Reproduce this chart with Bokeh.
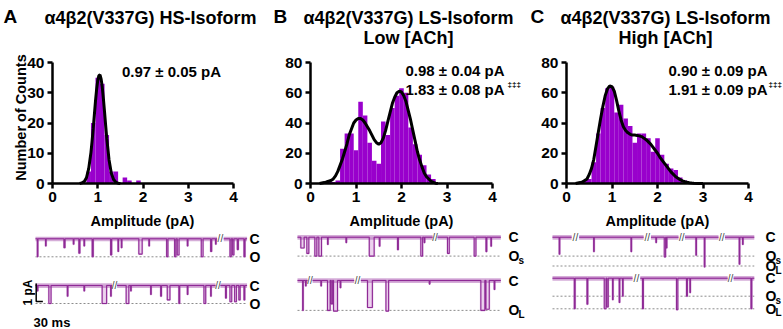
import math
from bokeh.plotting import figure
from bokeh.models import Label, Range1d
from bokeh.layouts import row
from bokeh.embed import file_html
from bokeh.resources import INLINE
from bokeh.core.properties import value

FONT = "Liberation Sans"
PURPLE = "#9900cc"

# ---------------- histogram data (bin centres in pA, counts) ----------------
a_centers = [0.8, 0.9, 1.0, 1.1, 1.2, 1.3, 1.4, 1.6, 1.7, 1.9]
a_counts = [4, 20, 35, 33, 16, 4, 4, 2, 1, 1]

b_centers = [0.4, 0.5, 0.6, 0.7, 0.8, 0.9, 1.0, 1.1, 1.2, 1.3, 1.4, 1.5, 1.6, 1.7,
             1.8, 1.9, 2.0, 2.1, 2.2, 2.3, 2.4, 2.5, 2.6, 2.7]
b_counts = [1.5, 1, 2, 23, 33, 33, 22, 54, 45, 27, 15, 13, 41, 32,
            50, 58, 63, 60, 37, 26, 19, 12, 6, 3]

c_centers = [0.3, 0.4, 0.5, 0.6, 0.7, 0.8, 0.9, 1.0, 1.1, 1.2, 1.3, 1.4, 1.5, 1.6,
             1.7, 1.8, 1.9, 2.0, 2.1, 2.2, 2.3, 2.4, 2.5, 2.6]
c_counts = [1, 2, 3, 14, 33, 50, 63, 64, 47, 52, 43, 38, 27, 33,
            33, 30, 21, 30, 19, 13, 10, 9, 4, 2]

# ---------------- fitted curves ----------------
a_fit_x = [0.60, 0.65, 0.70, 0.75, 0.80, 0.85, 0.875, 0.90, 0.925, 0.95, 0.975, 1.00,
           1.025, 1.05, 1.075, 1.10, 1.125, 1.15, 1.175, 1.20, 1.25, 1.30, 1.35, 1.40,
           1.45, 1.50]
a_fit_y = [0.0, 0.2, 0.6, 1.9, 4.9, 10.3, 14.0, 18.2, 22.7, 27.2, 31.1, 34.1,
           35.7, 35.9, 34.5, 31.8, 28.0, 23.7, 19.1, 14.8, 7.8, 3.4, 1.3, 0.4,
           0.1, 0.0]

b_fit_x = [0.20, 0.25, 0.30, 0.35, 0.40, 0.45, 0.50, 0.55, 0.60, 0.65, 0.70, 0.75,
           0.80, 0.85, 0.90, 0.95, 1.00, 1.05, 1.10, 1.15, 1.20, 1.25, 1.30, 1.35,
           1.40, 1.45, 1.50, 1.55, 1.60, 1.65, 1.70, 1.75, 1.80, 1.85, 1.90, 1.95,
           2.00, 2.05, 2.10, 2.15, 2.20, 2.25, 2.30, 2.35, 2.40, 2.45, 2.50, 2.55,
           2.60, 2.65, 2.70, 2.75, 2.80]
b_fit_y = [0.0, 0.3, 0.6, 1.0, 1.5, 2.0, 3.0, 5.0, 8.0, 12.0, 16.0, 21.0,
           26.0, 32.0, 36.0, 40.0, 42.0, 43.0, 43.0, 42.0, 40.0, 37.5, 35.0, 32.0,
           29.0, 27.0, 26.0, 27.0, 30.0, 35.0, 41.0, 47.0, 53.0, 57.0, 60.0, 61.0,
           60.5, 58.0, 54.0, 48.0, 42.0, 35.0, 28.0, 21.0, 15.5, 11.0, 7.0, 4.5,
           3.0, 1.5, 0.7, 0.2, 0.0]

c_fit_x = [0.20, 0.25, 0.30, 0.35, 0.40, 0.45, 0.50, 0.55, 0.60, 0.65, 0.70, 0.75,
           0.80, 0.85, 0.90, 0.95, 1.00, 1.05, 1.10, 1.15, 1.20, 1.25, 1.30, 1.35,
           1.40, 1.45, 1.50, 1.55, 1.60, 1.65, 1.70, 1.75, 1.80, 1.85, 1.90, 1.95,
           2.00, 2.05, 2.10, 2.15, 2.20, 2.25, 2.30, 2.35, 2.40, 2.45, 2.50, 2.55,
           2.60, 2.65, 2.70, 2.75, 2.80, 2.90, 3.00]
c_fit_y = [0.0, 0.3, 0.6, 1.0, 2.0, 3.0, 6.0, 10.0, 16.0, 25.0, 34.0, 43.0,
           51.0, 58.0, 62.5, 64.5, 64.0, 61.0, 55.0, 48.0, 42.0, 37.5, 35.0, 33.5,
           32.5, 32.0, 32.0, 31.8, 31.5, 31.0, 30.0, 29.0, 27.5, 26.0, 24.0, 22.0,
           20.0, 17.5, 15.5, 13.5, 11.5, 9.5, 7.5, 6.0, 4.5, 3.5, 2.5, 1.8,
           1.2, 0.8, 0.5, 0.3, 0.15, 0.0, 0.0]

x_ticks = [0, 1, 2, 3, 4]
a_y_ticks = [0, 10, 20, 30, 40]
bc_y_ticks = [0, 20, 40, 60, 80]

# ---------------- single-channel traces (ms from trace start; events: start, duration, amplitude pA) ----
A1_len = 952
A1_breaks = [(817, 847)]
A1_levels = [1.0]
A1_events = [(8, 3, 1.0), (45, 3, 0.4), (128, 5, 0.5), (170, 3, 0.3), (195, 5, 0.8), (218, 3, 0.4),
             (255, 5, 1.0), (338, 5, 0.9), (371, 3, 0.7), (386, 3, 0.5), (465, 15, 0.85), (510, 3, 0.4),
             (590, 6, 1.0), (626, 6, 1.0), (638, 8, 0.9), (683, 3, 0.4), (746, 8, 1.0), (788, 5, 0.7),
             (810, 3, 0.3), (875, 6, 1.0), (887, 6, 0.9), (908, 5, 0.6), (938, 5, 1.0)]

A2_len = 952
A2_breaks = [(345, 367), (810, 832)]
A2_levels = [1.0]
A2_events = [(8, 3, 0.3), (60, 10, 1.0), (143, 3, 0.6), (218, 3, 0.3), (300, 20, 1.0), (338, 3, 0.6),
             (408, 12, 1.0), (428, 3, 0.3), (518, 3, 0.5), (563, 4, 0.6), (593, 12, 0.8), (645, 4, 1.0),
             (683, 3, 0.5), (758, 8, 1.0), (788, 3, 0.6), (855, 4, 0.7), (875, 8, 0.9), (896, 8, 0.9),
             (915, 6, 0.8), (938, 4, 0.8)]

B1_len = 915
B1_breaks = [(608, 630)]
B1_levels = [1.05]
B1_events = [(15, 15, 0.6), (42, 9, 0.9), (78, 9, 1.05), (96, 12, 1.05), (135, 3, 0.4), (218, 3, 0.3),
             (323, 22, 1.05), (368, 3, 0.5), (450, 4, 0.7), (555, 8, 1.05), (570, 3, 0.3), (675, 8, 0.9),
             (795, 8, 1.05), (848, 4, 0.8), (870, 3, 0.5)]

B2_len = 915
B2_breaks = [(45, 68), (255, 285)]
B2_levels = [1.66]
B2_events = [(23, 3, 1.66), (36, 3, 0.3), (105, 3, 0.3), (135, 12, 1.66), (152, 6, 1.3), (162, 18, 1.7),
             (192, 3, 0.4), (315, 22, 1.5), (398, 12, 1.7), (593, 3, 0.2), (825, 18, 1.66), (848, 15, 1.6),
             (885, 3, 0.5)]

C1_len = 908
C1_breaks = [(86, 120), (410, 443), (567, 596), (747, 776)]
C1_levels = [1.05, 1.6]
C1_events = [(30, 3, 0.95), (185, 3, 0.8), (353, 3, 0.8), (465, 3, 0.3), (503, 6, 1.1), (512, 3, 0.6),
             (645, 3, 1.0), (683, 3, 1.65), (840, 3, 1.5), (855, 3, 0.4)]

C2_len = 908
C2_breaks = [(360, 395), (788, 815)]
C2_levels = [1.0, 1.7]
C2_events = [(98, 4, 1.7), (155, 4, 1.45), (233, 8, 1.7), (245, 6, 1.6), (270, 3, 1.2), (300, 3, 1.35),
             (315, 3, 1.0), (405, 4, 1.7), (558, 6, 1.75), (603, 4, 1.0), (618, 3, 0.8), (893, 4, 1.7)]

scale_ms = 30
scale_pA = 1

# ---------------- layout constants (pixels) ----------------
FIG_H = 329
FRAME_T = 62          # pixel row of the top tick of the count axis
FRAME_B = 183         # pixel row of count = 0
MS_PER_PX = 4.5
PX_PER_PA = 18.0
DARK = "#8e2a95"
MID = "#a24aa8"
LIGHT = "#dcaee0"


def make_panel(fig_x, fig_w, left, frame_w, ymax, yticks, centers, counts, fx, fy):
    span = FRAME_B - FRAME_T
    xs0 = -left / frame_w * 4.0
    xs1 = (fig_w - left) / frame_w * 4.0
    ys0 = -(FIG_H - FRAME_B) / span * ymax
    ys1 = ymax + FRAME_T / span * ymax
    p = figure(width=fig_w, height=FIG_H, x_range=Range1d(xs0, xs1), y_range=Range1d(ys0, ys1),
               output_backend="svg", toolbar_location=None, min_border=0)
    p.outline_line_color = None
    p.grid.visible = False
    # trace coordinate system (ms, pA)
    p.extra_x_ranges = {"ms": Range1d(0, fig_w * MS_PER_PX)}
    p.extra_y_ranges = {"pA": Range1d(-FIG_H / PX_PER_PA, 0)}

    p.vbar(x=centers, width=0.1, top=counts, fill_color=PURPLE, line_color=None)
    p.line(fx, fy, line_color="black", line_width=3)
    p.xaxis.fixed_location = 0
    p.yaxis.fixed_location = 0
    p.xaxis.bounds = (0, 4)
    p.yaxis.bounds = (0, ymax)
    for ax in (p.xaxis[0], p.yaxis[0]):
        ax.axis_line_width = 2.5
        ax.major_tick_line_width = 2.5
        ax.major_tick_out = 5
        ax.major_tick_in = 0
        ax.minor_tick_line_color = None
        ax.major_label_text_font = FONT
        ax.major_label_text_font_style = "bold"
        ax.major_label_text_font_size = "15.5px"
        ax.major_label_text_color = "black"
        ax.major_label_standoff = 3
    p.xaxis[0].ticker = x_ticks
    p.yaxis[0].ticker = yticks

    def lab(px, py, text, size, align="center", angle=0.0):
        x = xs0 + (px - fig_x) / fig_w * (xs1 - xs0)
        y = ys1 - py / FIG_H * (ys1 - ys0)
        p.add_layout(Label(x=x, y=y, text=text, text_font=FONT, text_font_style="bold",
                           text_font_size=size, text_align=align, text_baseline="middle",
                           angle=angle, text_color="black"))

    def rx(px):
        return (px - fig_x) * MS_PER_PX

    def ry(py):
        return -py / PX_PER_PA

    kw = dict(x_range_name="ms", y_range_name="pA")

    def trace(x0_px, c_py, length, breaks, levels, events, label_px, sublabels):
        x0 = rx(x0_px)
        c = ry(c_py)
        for lv in levels:
            p.line([x0, x0 + length], [c - lv, c - lv], line_color="#8c8c8c", line_width=1,
                   line_dash="2 2", **kw)
        bounds = [0]
        for b0, b1 in breaks:
            bounds += [b0, b1]
        bounds.append(length)
        segs = [(bounds[i], bounds[i + 1]) for i in range(0, len(bounds), 2)]
        xs_all, ys_all = [], []
        for s, e in segs:
            xs, ys = [x0 + s], [c]
            for (t, d, a) in events:
                if s <= t < e:
                    xs += [x0 + t, x0 + t, x0 + t + d, x0 + t + d]
                    ys += [c, c - a, c - a, c]
            xs.append(x0 + e)
            ys.append(c)
            xs_all.append(xs)
            ys_all.append(ys)
        p.quad(left=[x0 + t for t, d, a in events], right=[x0 + t + d for t, d, a in events],
               top=[c] * len(events), bottom=[c - a for t, d, a in events],
               fill_color=LIGHT, fill_alpha=0.55, line_color=None, **kw)
        p.multi_line(xs_all, ys_all, line_color=LIGHT, line_width=2.0, line_alpha=0.7, **kw)
        p.quad(left=[x0 + s for s, e in segs], right=[x0 + e for s, e in segs],
               bottom=[c - 0.14] * len(segs), top=[c + 0.12] * len(segs),
               fill_color=MID, fill_alpha=0.45, line_color=None, **kw)
        p.multi_line(xs_all, ys_all, line_color=DARK, line_width=1.1, **kw)
        p.text(x=[x0 + (b0 + b1) / 2 for b0, b1 in breaks], y=[c] * len(breaks),
               text=["//"] * len(breaks), text_font=value(FONT), text_font_size="10px",
               text_align="center", text_baseline="middle", text_color="#444444", **kw)
        lx = rx(label_px)
        ys = [c] + [c - lv for lv in levels]
        p.text(x=[lx] * len(ys), y=ys, text=["C"] + ["O"] * len(levels), text_font=value(FONT),
               text_font_style="bold", text_font_size="14px", text_align="left",
               text_baseline="middle", text_color="black", **kw)
        subs = [(s, c - lv) for s, lv in zip(sublabels, levels) if s]
        if subs:
            p.text(x=[lx + 10 * MS_PER_PX] * len(subs), y=[y - 4 / PX_PER_PA for s, y in subs],
                   text=[s for s, y in subs], text_font=value(FONT), text_font_style="bold",
                   text_font_size="10px", text_align="left", text_baseline="middle",
                   text_color="black", **kw)

    p._lab = lab
    p._trace = trace
    p._rx = rx
    p._ry = ry
    return p


pA = make_panel(0, 262, 52, 181, 40, a_y_ticks, a_centers, a_counts, a_fit_x, a_fit_y)
pB = make_panel(262, 265, 48, 182, 80, bc_y_ticks, b_centers, b_counts, b_fit_x, b_fit_y)
pC = make_panel(527, 256, 39, 182, 80, bc_y_ticks, c_centers, c_counts, c_fit_x, c_fit_y)

# panel A texts (absolute pixel positions)
pA._lab(3, 16, "A", "19px", align="left")
pA._lab(150, 17, "α4β2(V337G) HS-Isoform", "18px")
pA._lab(171, 71, "0.97 ± 0.05 pA", "15px")
pA._lab(20, 117, "Number of Counts", "14.5px", angle=math.pi / 2)
pA._lab(142, 220, "Amplitude (pA)", "14.5px")
# panel B texts
pB._lab(273, 16, "B", "19px", align="left")
pB._lab(408, 17, "α4β2(V337G) LS-Isoform", "18px")
pB._lab(408, 37, "Low [ACh]", "18px")
pB._lab(405, 70, "0.98 ± 0.04 pA", "15px", align="left")
pB._lab(405, 89, "1.83 ± 0.08 pA", "15px", align="left")
pB._lab(507, 84, "‡‡‡", "8px", align="left")
pB._lab(401, 220, "Amplitude (pA)", "14.5px")
# panel C texts
pC._lab(530, 16, "C", "19px", align="left")
pC._lab(665, 17, "α4β2(V337G) LS-Isoform", "18px")
pC._lab(665, 37, "High [ACh]", "18px")
pC._lab(668, 70, "0.90 ± 0.09 pA", "15px", align="left")
pC._lab(668, 89, "1.91 ± 0.09 pA", "15px", align="left")
pC._lab(768, 84, "‡‡‡", "8px", align="left")
pC._lab(657, 220, "Amplitude (pA)", "14.5px")

# traces
pA._trace(35, 238.3, A1_len, A1_breaks, A1_levels, A1_events, 249, [""])
pA._trace(35, 285.0, A2_len, A2_breaks, A2_levels, A2_events, 249, [""])
pB._trace(297, 236.7, B1_len, B1_breaks, B1_levels, B1_events, 508, ["s"])
pB._trace(297, 280.0, B2_len, B2_breaks, B2_levels, B2_events, 508, ["L"])
pC._trace(552, 236.7, C1_len, C1_breaks, C1_levels, C1_events, 765, ["s", "L"])
pC._trace(552, 277.7, C2_len, C2_breaks, C2_levels, C2_events, 765, ["s", "L"])

# scale bar (panel A)
kw = dict(x_range_name="ms", y_range_name="pA")
sb_x = pA._rx(35.7)
sb_y = pA._ry(301)
pA.line([sb_x, sb_x, sb_x + scale_ms], [sb_y + scale_pA, sb_y, sb_y], line_color="black",
        line_width=1.5, **kw)
pA.text(x=[pA._rx(27)], y=[sb_y + scale_pA / 2], text=[f"{scale_pA} pA"], angle=math.pi / 2,
        text_font=value(FONT), text_font_style="bold", text_font_size="12px",
        text_align="center", text_baseline="middle", text_color="black", **kw)
pA.text(x=[pA._rx(33)], y=[pA._ry(322)], text=[f"{scale_ms} ms"], text_font=value(FONT),
        text_font_style="bold", text_font_size="13px", text_align="left",
        text_baseline="middle", text_color="black", **kw)

layout = row(pA, pB, pC)
open("out.html", "w").write(file_html(layout, INLINE))
